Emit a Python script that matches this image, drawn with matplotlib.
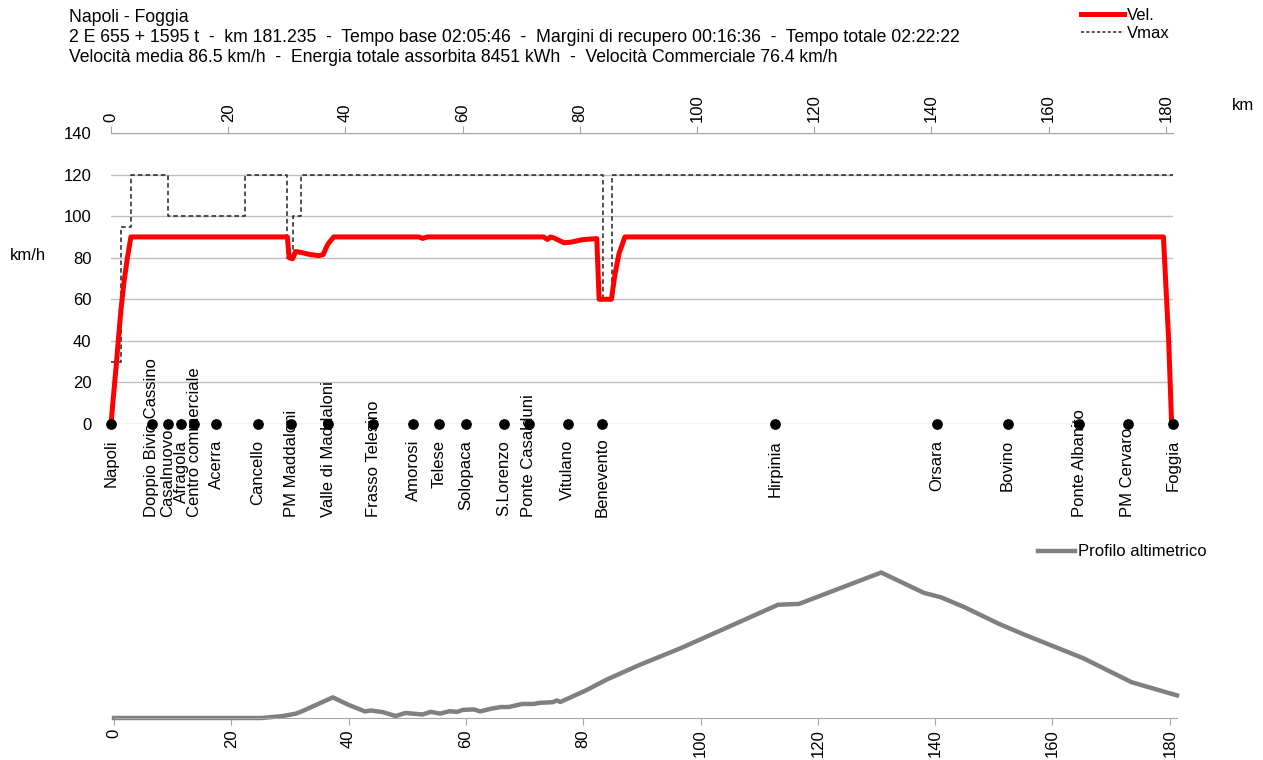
import matplotlib
matplotlib.use("Agg")
import matplotlib.pyplot as plt
from matplotlib.lines import Line2D

plt.rcParams["font.family"] = ["Liberation Sans", "DejaVu Sans"]
plt.rcParams["font.size"] = 12

# header
title_lines = [
    "Napoli - Foggia",
    "2 E 655 + 1595 t  -  km 181.235  -  Tempo base 02:05:46  -  Margini di recupero 00:16:36  -  Tempo totale 02:22:22",
    "Velocità media 86.5 km/h  -  Energia totale assorbita 8451 kWh  -  Velocità Commerciale 76.4 km/h",
]

# speed profile (km, km/h)
vel_km = [0, 0.5, 0.95, 1.3, 1.7, 2.2, 2.8, 3.4, 30.1, 30.4, 31.0, 31.5, 32.5, 34, 35.5,
          36.2, 37, 38.0, 52.5, 53.2, 54, 73.8, 74.5, 75.0, 75.6, 77.3, 78.5, 80.5, 82.9,
          83.3, 85.4, 86.0, 86.7, 87.7, 179.6, 180.5, 181.0]
vel_kmh = [0, 16, 30, 42, 55, 68, 80, 90, 90, 80, 79.5, 83, 82.5, 81.5, 81,
           81.5, 86.5, 90, 90, 89.3, 90, 90, 88.8, 90, 89.5, 87.2, 87.5, 88.7, 89.2,
           60, 60, 72, 82, 90, 90, 40, 0]

# speed limit (step)
vmax_km = [0, 1.65, 3.37, 9.69, 22.9, 30.1, 31.0, 32.4, 83.9, 85.5, 181.235]
vmax_kmh = [30, 95, 120, 100, 120, 80, 100, 120, 60, 120, 120]

# stations
stations = ["Napoli", "Doppio Bivio Cassino", "Casalnuovo", "Afragola", "Centro commerciale",
            "Acerra", "Cancello", "PM Maddaloni", "Valle di Maddaloni", "Frasso Telesino",
            "Amorosi", "Telese", "Solopaca", "S.Lorenzo", "Ponte Casalduni", "Vitulano",
            "Benevento", "Hirpinia", "Orsara", "Bovino", "Ponte Albanito", "PM Cervaro", "Foggia"]
station_km = [0, 6.96, 9.69, 11.97, 14.24, 17.95, 25.08, 30.77, 37.04, 44.74, 51.57, 55.95,
              60.63, 67.06, 71.33, 77.95, 83.8, 113.3, 140.9, 153.0, 165.2, 173.5, 181.235]

# altitude profile
alt_km = [0, 25.2, 28.8, 31, 32, 37.3, 39.9, 42.8, 43.8, 45.8, 48, 49.7, 52.6, 54, 55.6,
          57.2, 58.5, 59.5, 61.4, 62.4, 64.4, 66, 67.3, 69.6, 71.6, 72.5, 74.8, 75.5, 76.1,
          80.4, 84, 89.7, 96.6, 104.5, 113.2, 116.8, 130.8, 138.1, 141, 145, 150.8, 155.1,
          165.2, 173.5, 181.235]
alt_m = [0, 0, 9, 20, 30, 94, 61, 30, 34, 27, 9, 23, 16, 28, 20,
         31, 28, 37, 39, 30, 43, 50, 50, 64, 64, 69, 72, 80, 73,
         125, 175, 243, 318, 412, 516, 520, 663, 570, 550, 505, 430, 381,
         273, 163, 103]

W, H = 1263, 760
fig = plt.figure(figsize=(W / 100, H / 100), dpi=100)

grey_axis = "#a6a6a6"
grey_grid = "#bfbfbf"

# ---- speed chart ----
ax = fig.add_axes([111 / W, 1 - 424 / H, (1173 - 111) / W, (424 - 133) / H])
ax.set_xlim(0, 181.235)
ax.set_ylim(0, 140)
for s in ["left", "right", "bottom"]:
    ax.spines[s].set_visible(False)
ax.spines["top"].set_color(grey_axis)
ax.xaxis.tick_top()
ax.set_xticks(range(0, 181, 20))
ax.tick_params(axis="x", colors=grey_axis, labelcolor="black", labelrotation=90, length=5, pad=3)
ax.set_yticks(range(0, 141, 20))
ax.tick_params(axis="y", length=0, pad=14)
ax.yaxis.grid(True, color=grey_grid, lw=1)
ax.set_axisbelow(True)

ax.plot(vmax_km, vmax_kmh, drawstyle="steps-post", color="#222222", lw=1.1,
        dashes=(3, 2), label="Vmax", zorder=3)
ax.plot(vel_km, vel_kmh, color="#ff0000", lw=3.6, label="Vel.", zorder=4,
        solid_joinstyle="round", clip_on=False)
ax.scatter(station_km, [0] * len(station_km), s=45, color="black", zorder=5, clip_on=False)

labels = []
for name, km in zip(stations, station_km):
    t = ax.annotate(name, (km, 0), xytext=(0, -16), textcoords="offset pixels",
                    rotation=90, ha="center", va="top", fontsize=12, zorder=6)
    labels.append(t)

fig.text(10 / W, 1 - 255 / H, "km/h", fontsize=12, va="center")
fig.text(1232 / W, 1 - 105 / H, "km", fontsize=12, va="center")

for i, line in enumerate(title_lines):
    fig.text(69 / W, 1 - (17 + 20 * i) / H, line, fontsize=12.7, va="center")

leg_handles = [Line2D([], [], color="#ff0000", lw=3.6),
               Line2D([], [], color="#222222", lw=1.1, dashes=(2, 1.5))]
fig.legend(leg_handles, ["Vel.", "Vmax"], loc="upper right", bbox_to_anchor=(1185 / W, 1 + 7 / H),
           frameon=False, handlelength=2.6, handletextpad=0.2, labelspacing=0.2, fontsize=12)

# ---- altitude profile ----
ax2 = fig.add_axes([114 / W, 1 - 718 / H, (1177 - 114) / W, (718 - 560) / H])
ax2.set_xlim(0, 181.235)
ax2.set_ylim(0, 720)
for s in ["left", "right", "top"]:
    ax2.spines[s].set_visible(False)
ax2.spines["bottom"].set_color(grey_axis)
ax2.set_yticks([])
ax2.set_xticks(range(0, 181, 20))
ax2.tick_params(axis="x", colors=grey_axis, labelcolor="black", labelrotation=90, length=5, pad=3)
ax2.plot(alt_km, alt_m, color="#808080", lw=3.2, label="Profilo altimetrico", clip_on=False,
         solid_joinstyle="round")
fig.legend([Line2D([], [], color="#808080", lw=3.2)], ["Profilo altimetrico"], loc="center right",
           bbox_to_anchor=(1222 / W, 1 - 552 / H), frameon=False, handlelength=2.2,
           handletextpad=0.2, fontsize=12)

# shift station labels up when they run past the bottom limit
fig.canvas.draw()
limit = 93
for t in labels:
    h = t.get_window_extent().height
    if h + 16 > limit:
        t.xyann = (0, -limit + h)

fig.savefig("out.png", dpi=100)
